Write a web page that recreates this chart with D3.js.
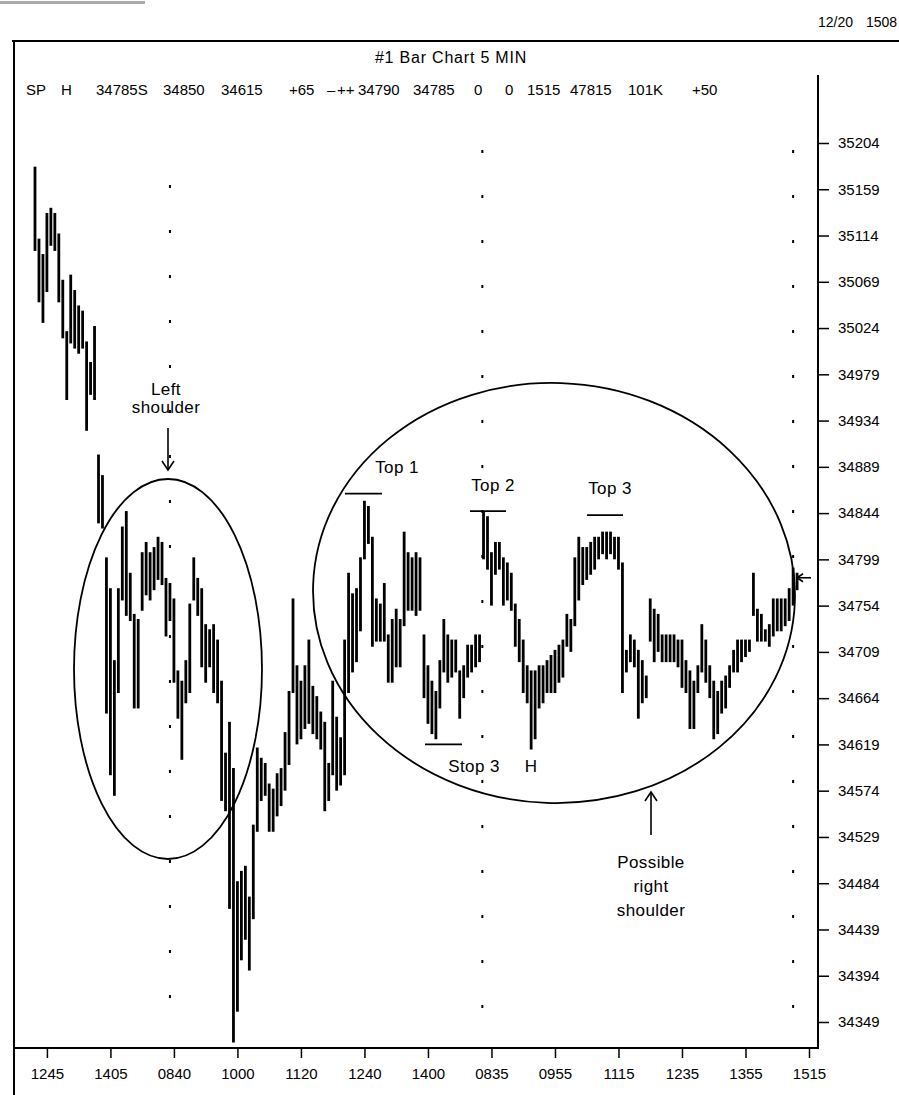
<!DOCTYPE html>
<html><head><meta charset="utf-8">
<script src="https://cdn.jsdelivr.net/npm/d3@7"></script>
<style>
body{margin:0;background:#fff}
svg{display:block}
text{font-family:"Liberation Sans",Arial,Helvetica,sans-serif;fill:#000}
</style>
</head><body>
<svg id="c" width="899" height="1095"></svg>
<script>
// ---- data (5-minute bars, high / low) ----
const highs = [
35180,35110,35095,35135,35140,35135,35115,35070,35020,35075,
35060,35045,35040,35010,34990,35025,34900,34880,34800,34770,
34700,34770,34830,34845,34785,34745,34740,34805,34815,34805,
34810,34820,34815,34780,34775,34760,34690,34680,34700,34755,
34800,34780,34770,34735,34730,34735,34720,34680,34610,34640,
34595,34485,34495,34500,34470,34540,34615,34605,34600,34580,
34575,34590,34595,34630,34670,34760,34695,34680,34695,34720,
34675,34665,34650,34640,34600,34680,34645,34625,34720,34785,
34765,34770,34800,34855,34850,34820,34760,34755,34775,34725,
34740,34750,34740,34825,34805,34800,34805,34800,34725,34695,
34680,34670,34700,34740,34725,34720,34720,34690,34695,34715,
34715,34725,34725,34845,34840,34805,34815,34815,34800,34795,
34785,34755,34740,34720,34695,34690,34690,34695,34695,34700,
34705,34710,34715,34720,34745,34740,34800,34820,34810,34810,
34815,34820,34820,34825,34825,34825,34820,34820,34795,34710,
34725,34720,34710,34700,34685,34760,34750,34745,34725,34725,
34725,34725,34720,34720,34700,34690,34680,34695,34735,34720,
34695,34680,34670,34680,34685,34695,34710,34720,34720,34720,
34720,34785,34750,34745,34730,34735,34760,34760,34760,34760,
34770,34790,34785];
const lows = [
35100,35050,35030,35060,35105,35100,35050,35015,34955,35010,
35005,35000,35005,34925,34960,34955,34835,34830,34650,34590,
34570,34670,34760,34745,34740,34655,34655,34750,34765,34760,
34770,34780,34775,34725,34740,34680,34645,34605,34660,34670,
34760,34745,34695,34680,34695,34670,34660,34565,34555,34460,
34330,34360,34410,34430,34400,34450,34535,34565,34570,34535,
34535,34550,34560,34575,34600,34670,34620,34625,34635,34640,
34630,34625,34615,34555,34565,34590,34575,34580,34590,34670,
34690,34700,34730,34800,34815,34715,34720,34720,34720,34680,
34680,34695,34695,34735,34750,34750,34745,34750,34665,34640,
34630,34625,34655,34690,34680,34685,34690,34645,34665,34685,
34690,34695,34700,34800,34790,34755,34785,34790,34755,34760,
34750,34715,34700,34670,34660,34615,34625,34655,34660,34670,
34670,34670,34680,34685,34715,34710,34735,34760,34775,34780,
34785,34790,34800,34805,34800,34805,34800,34790,34670,34690,
34700,34695,34645,34660,34665,34720,34700,34710,34700,34700,
34700,34700,34695,34675,34670,34635,34635,34670,34690,34680,
34665,34625,34630,34650,34655,34675,34690,34690,34700,34705,
34710,34745,34720,34720,34720,34715,34725,34730,34730,34735,
34740,34755,34770];
const xTickIndex  = [3,19,35,51,67,83,99,115,131,147,163,179,195];
const xTickLabels = ["1245","1405","0840","1000","1120","1240","1400","0835","0955","1115","1235","1355","1515"];
const yTicks = [35204,35159,35114,35069,35024,34979,34934,34889,34844,34799,34754,34709,34664,34619,34574,34529,34484,34439,34394,34349];
const dayBreaks = [34, 112.7, 191];
const headerItems = ["SP","H","34785S","34850","34615","+65","\u2013","++","34790","34785","0","0","1515","47815","101K","+50"];
const levelNames  = ["Top 1","Top 2","Top 3","Stop 3"];
const levelPrices = [34863, 34846, 34842, 34619];
const lastPrice = 34785;

// ---- drawing ----
const svg = d3.select("#c");
const x = d3.scaleLinear().domain([0,195]).range([35,809]);
const y = d3.scaleLinear().domain([34349,35204]).range([1022,143]);

// scan smudge + header
svg.append("rect").attr("x",0).attr("y",1).attr("width",145).attr("height",3).attr("fill","#aaa");
svg.append("text").attr("x",818).attr("y",27).attr("font-size",14).text("12/20");
svg.append("text").attr("x",866).attr("y",27).attr("font-size",14).text("1508");

// frame
svg.append("line").attr("x1",12).attr("x2",899).attr("y1",41).attr("y2",41).attr("stroke","#000").attr("stroke-width",2);
svg.append("line").attr("x1",14).attr("x2",14).attr("y1",40).attr("y2",1095).attr("stroke","#000").attr("stroke-width",2);
svg.append("text").attr("x",451).attr("y",63).attr("text-anchor","middle").attr("font-size",16)
  .attr("letter-spacing",0.8).text("#1 Bar Chart 5 MIN");

const headerX = [26,61,96,163,221,289,327,337,358,413,474,505,527,570,628,692];
svg.append("g").selectAll("text").data(headerItems).join("text")
  .attr("x",(d,i)=>headerX[i]).attr("y",95).attr("font-size",15).text(d=>d);

// right (price) axis
const yAxis = d3.axisRight(y).tickValues(yTicks).tickSize(11).tickPadding(9).tickFormat(d3.format("d"));
const ga = svg.append("g").attr("transform","translate(818,0)").call(yAxis);
ga.select(".domain").remove();
ga.selectAll("line").attr("stroke","#000").attr("stroke-width",1.5);
ga.selectAll("text").attr("font-size",15).attr("font-family","Liberation Sans, Arial, sans-serif");
svg.append("line").attr("x1",818).attr("x2",818).attr("y1",75).attr("y2",1049).attr("stroke","#000").attr("stroke-width",2);

// bottom (time) axis
const xAxis = d3.axisBottom(x).tickValues(xTickIndex).tickSize(10).tickPadding(10).tickFormat((d,i)=>xTickLabels[i]);
const gx = svg.append("g").attr("transform","translate(0,1048)").call(xAxis);
gx.select(".domain").remove();
gx.selectAll("line").attr("stroke","#000").attr("stroke-width",1.5);
gx.selectAll("text").attr("font-size",15).attr("font-family","Liberation Sans, Arial, sans-serif");
svg.append("line").attr("x1",14).attr("x2",819).attr("y1",1048).attr("y2",1048).attr("stroke","#000").attr("stroke-width",2);

// day separators (dotted)
svg.append("g").selectAll("line").data(dayBreaks).join("line")
  .attr("x1",d=>x(d)).attr("x2",d=>x(d))
  .attr("y1",(d,i)=>i===0?185:150).attr("y2",1040)
  .attr("stroke","#000").attr("stroke-width",2).attr("stroke-dasharray","3,42");

// bars
svg.append("g").selectAll("line").data(highs).join("line")
  .attr("x1",(d,i)=>x(i)).attr("x2",(d,i)=>x(i))
  .attr("y1",d=>y(d)-1).attr("y2",(d,i)=>y(lows[i])+1)
  .attr("stroke","#000").attr("stroke-width",2.8);

// ellipses
svg.append("ellipse").attr("cx",168).attr("cy",669).attr("rx",94).attr("ry",190)
  .attr("fill","none").attr("stroke","#000").attr("stroke-width",1.8);
svg.append("ellipse").attr("cx",0).attr("cy",0).attr("rx",241).attr("ry",210)
  .attr("transform","translate(554,593) rotate(2)")
  .attr("fill","none").attr("stroke","#000").attr("stroke-width",1.8);

// annotations
const ann = svg.append("g");
function txt(t,cx,cy){ann.append("text").attr("x",cx).attr("y",cy).attr("dy","0.35em").attr("text-anchor","middle")
  .attr("font-size",17).attr("letter-spacing",0.4).text(t);}
txt("Left",166,389); txt("shoulder",166,407);
txt("Possible",651,862); txt("right",651,886); txt("shoulder",651,910);
txt(levelNames[0],397,467); txt(levelNames[1],493,485); txt(levelNames[2],610,488); txt(levelNames[3],474,766);
txt("H",531,766);
const levelX = [[345,382],[470,506],[587,623],[425,462]];
svg.append("g").selectAll("line").data(levelPrices).join("line")
  .attr("x1",(d,i)=>levelX[i][0]).attr("x2",(d,i)=>levelX[i][1])
  .attr("y1",d=>y(d)).attr("y2",d=>y(d)).attr("stroke","#000").attr("stroke-width",1.8);

// arrows
const arr = svg.append("g").attr("stroke","#000").attr("stroke-width",1.6).attr("fill","none");
arr.append("line").attr("x1",168).attr("x2",168).attr("y1",428).attr("y2",469);
arr.append("path").attr("d","M162,461 L168,470 L174,461");
arr.append("line").attr("x1",651).attr("x2",651).attr("y1",835).attr("y2",793);
arr.append("path").attr("d","M645,801 L651,792 L657,801");
const ly = y(lastPrice)+4;
arr.append("path").attr("d",`M803,${ly-4} L797,${ly} L803,${ly+4}`);
arr.append("line").attr("x1",797).attr("x2",811).attr("y1",ly).attr("y2",ly);
</script>
</body></html>
